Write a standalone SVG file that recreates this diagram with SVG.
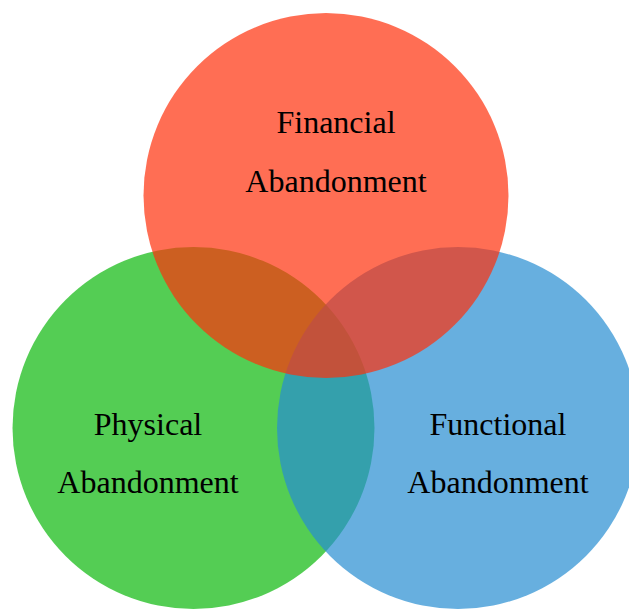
<svg xmlns="http://www.w3.org/2000/svg" width="629" height="609" viewBox="0 0 629 609">
<style>
.c{fill-opacity:0.7;stroke:none}
.t{font-family:"Liberation Serif","Times New Roman",serif;font-size:32px;fill:#000;text-anchor:middle}
</style>
<rect width="629" height="609" fill="#fff"/>
<g id="physical">
<circle class="c" cx="193.5" cy="428" r="181" fill="#0CB80C"/>
</g>
<g id="functional">
<circle class="c" cx="458" cy="428" r="181" fill="#278DD1"/>
</g>
<g id="financial">
<circle class="c" cx="326" cy="195.5" r="182.5" fill="#FF300C"/>
</g>
<g id="labels">
<text class="t" x="336" y="133">Financial</text>
<text class="t" x="336" y="192">Abandonment</text>
<text class="t" x="148" y="435">Physical</text>
<text class="t" x="148" y="493">Abandonment</text>
<text class="t" x="498" y="435">Functional</text>
<text class="t" x="498" y="493">Abandonment</text>
</g>
</svg>
